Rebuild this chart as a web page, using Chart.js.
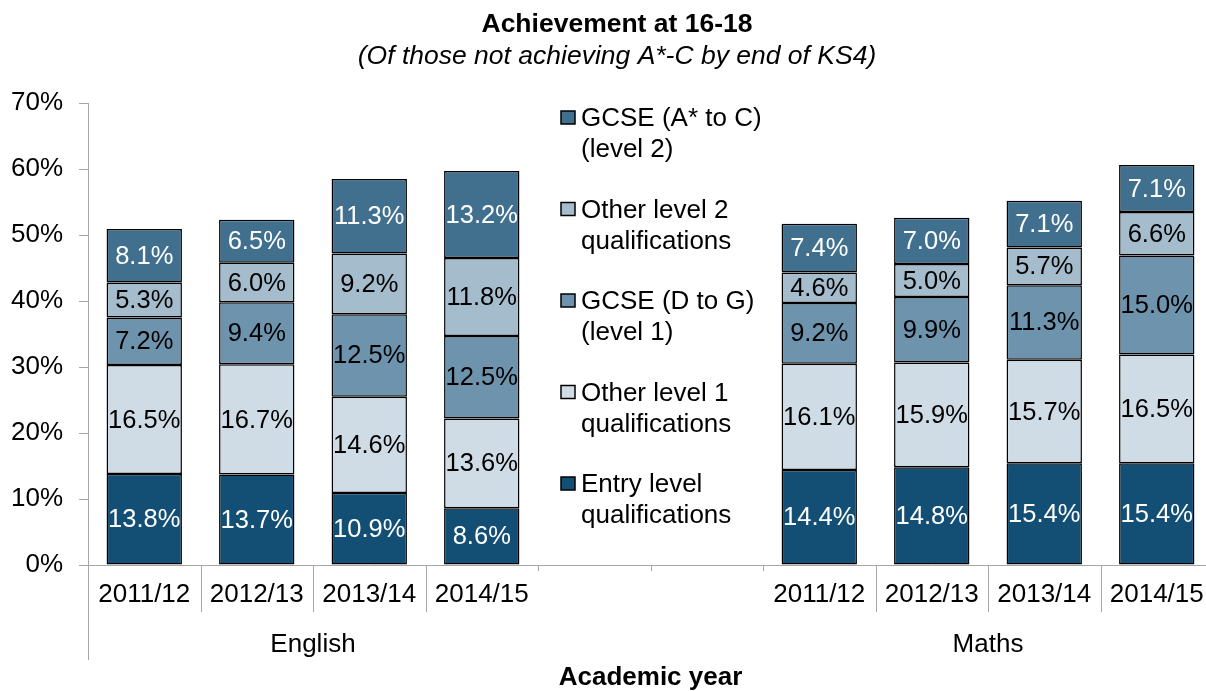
<!DOCTYPE html>
<html>
<head>
<meta charset="utf-8">
<title>Achievement at 16-18</title>
<script src="https://cdn.jsdelivr.net/npm/chart.js@4.4.0/dist/chart.umd.min.js"></script>
<style>
  html, body { margin: 0; padding: 0; background: #fff; overflow: hidden; }
  #chartContainer { width: 1206px; height: 691px; overflow: hidden; }
</style>
</head>
<body>
<div id="chartContainer"><canvas id="chart" width="1234" height="691"></canvas></div>
<script>
// Chart data
const years = ["2011/12", "2012/13", "2013/14", "2014/15"];
// English years, two empty slots (legend sits there), Maths years
const categories = [...years, "", "", ...years];
const subjects = ["English", "Maths"];
const subjectSlots = [[0, 3], [6, 9]];

const entryLevel = [13.8, 13.7, 10.9, 8.6, null, null, 14.4, 14.8, 15.4, 15.4];
const otherLevel1 = [16.5, 16.7, 14.6, 13.6, null, null, 16.1, 15.9, 15.7, 16.5];
const gcseDtoG = [7.2, 9.4, 12.5, 12.5, null, null, 9.2, 9.9, 11.3, 15.0];
const otherLevel2 = [5.3, 6.0, 9.2, 11.8, null, null, 4.6, 5.0, 5.7, 6.6];
const gcseAtoC = [8.1, 6.5, 11.3, 13.2, null, null, 7.4, 7.0, 7.1, 7.1];

const yMax = 70;
const yStep = 10;

const FONT = "'Liberation Sans', Arial, Helvetica, sans-serif";
const AXIS_GREY = "#a6a6a6";
Chart.defaults.font.family = FONT;
Chart.defaults.font.size = 26;
Chart.defaults.color = "#000";

const series = [
  { label: "Entry level\nqualifications", data: entryLevel, color: "#134f74", text: "#fff" },
  { label: "Other level 1\nqualifications", data: otherLevel1, color: "#cfdce5", text: "#000" },
  { label: "GCSE (D to G)\n(level 1)", data: gcseDtoG, color: "#6d93ad", text: "#000" },
  { label: "Other level 2\nqualifications", data: otherLevel2, color: "#a4bccc", text: "#000" },
  { label: "GCSE (A* to C)\n(level 2)", data: gcseAtoC, color: "#41708f", text: "#fff" },
];

const datasets = series.map((s) => ({
  label: s.label,
  data: s.data,
  backgroundColor: s.color,
  borderColor: "#000",
  borderWidth: 1.5,
  borderSkipped: false,
  barPercentage: 0.67,
  categoryPercentage: 1,
}));

// Value labels in the middle of each segment
const segmentLabels = {
  id: "segmentLabels",
  afterDatasetsDraw(chart) {
    const ctx = chart.ctx;
    ctx.save();
    ctx.font = "25.5px " + FONT;
    ctx.textAlign = "center";
    ctx.textBaseline = "middle";
    chart.data.datasets.forEach((ds, i) => {
      const meta = chart.getDatasetMeta(i);
      meta.data.forEach((bar, j) => {
        const v = ds.data[j];
        if (v == null) return;
        const { x, y, base } = bar.getProps(["x", "y", "base"], true);
        ctx.fillStyle = series[i].text;
        ctx.fillText(v.toFixed(1) + "%", x, (y + base) / 2 + 1);
      });
    });
    ctx.restore();
  },
};

// Category separators and subject names under the year labels
const groupAxis = {
  id: "groupAxis",
  afterDraw(chart) {
    const ctx = chart.ctx;
    const xs = chart.scales.x;
    const slot = (xs.right - xs.left) / categories.length;
    const y0 = xs.top;
    ctx.save();
    ctx.strokeStyle = AXIS_GREY;
    ctx.lineWidth = 1;
    for (let i = 0; i < categories.length; i++) {
      const bx = Math.round(xs.left + i * slot) + 0.5;
      let len = 6;
      if (i === 0) len = 95;
      else if (subjectSlots.some(([a, b]) => i > a && i <= b)) len = 47;
      ctx.beginPath();
      ctx.moveTo(bx, y0);
      ctx.lineTo(bx, y0 + len);
      ctx.stroke();
    }
    ctx.fillStyle = "#000";
    ctx.font = "26px " + FONT;
    ctx.textAlign = "center";
    ctx.textBaseline = "middle";
    subjects.forEach((name, k) => {
      const [a, b] = subjectSlots[k];
      const cx = xs.left + ((a + b + 1) / 2) * slot;
      ctx.fillText(name, cx, y0 + 80);
    });
    ctx.restore();
  },
};

// Legend placed in the empty middle slots, top item = top of stack
const sideLegend = {
  id: "sideLegend",
  afterDraw(chart) {
    const ctx = chart.ctx;
    ctx.save();
    ctx.font = "26px " + FONT;
    ctx.textAlign = "left";
    ctx.textBaseline = "middle";
    const items = [...series].reverse();
    items.forEach((s, k) => {
      const top = 111 + k * 91.5;
      ctx.fillStyle = s.color;
      ctx.fillRect(561, top, 14, 13);
      ctx.strokeStyle = "#000";
      ctx.lineWidth = 1.5;
      ctx.strokeRect(561, top, 14, 13);
      ctx.fillStyle = "#000";
      s.label.split("\n").forEach((line, n) => {
        ctx.fillText(line, 581, top + 8 + n * 31);
      });
    });
    ctx.restore();
  },
};

const chart = new Chart(document.getElementById("chart"), {
  type: "bar",
  data: { labels: categories, datasets },
  options: {
    responsive: false,
    animation: false,
    devicePixelRatio: 1,
    layout: { padding: 0 },
    plugins: {
      legend: { display: false },
      tooltip: { enabled: false },
      title: {
        display: true,
        text: "Achievement at 16-18",
        font: { size: 26.5, weight: "bold", lineHeight: 1.2 },
        padding: { top: 9, bottom: 0 },
      },
      subtitle: {
        display: true,
        text: "(Of those not achieving A*-C by end of KS4)",
        font: { size: 26.5, style: "italic", lineHeight: 1.2 },
        color: "#000",
        padding: { top: 0, bottom: 30.4 },
      },
    },
    scales: {
      x: {
        stacked: true,
        grid: { display: false, drawTicks: false },
        border: { display: true, color: AXIS_GREY, width: 1 },
        ticks: { padding: 14, maxRotation: 0, autoSkip: false, font: { size: 26 } },
        title: {
          display: true,
          text: "Academic year",
          font: { size: 26, weight: "bold", lineHeight: 0.8 },
          padding: { top: 43, bottom: 3 },
        },
      },
      y: {
        stacked: true,
        min: 0,
        max: yMax,
        afterFit(scale) {
          scale.width = 88;
        },
        grid: { drawOnChartArea: false, drawTicks: true, tickLength: 9, color: AXIS_GREY },
        border: { display: true, color: AXIS_GREY, width: 1 },
        ticks: {
          stepSize: yStep,
          padding: 16,
          font: { size: 26 },
          callback: (v) => v + "%",
        },
      },
      // empty right-hand spacer: the plot runs slightly past the visible edge
      spacer: {
        type: "linear",
        position: "right",
        grid: { display: false, drawTicks: false },
        border: { display: false },
        ticks: { display: false },
        afterFit(scale) {
          scale.width = 21;
        },
      },
    },
  },
  plugins: [segmentLabels, groupAxis, sideLegend],
});
</script>
</body>
</html>
